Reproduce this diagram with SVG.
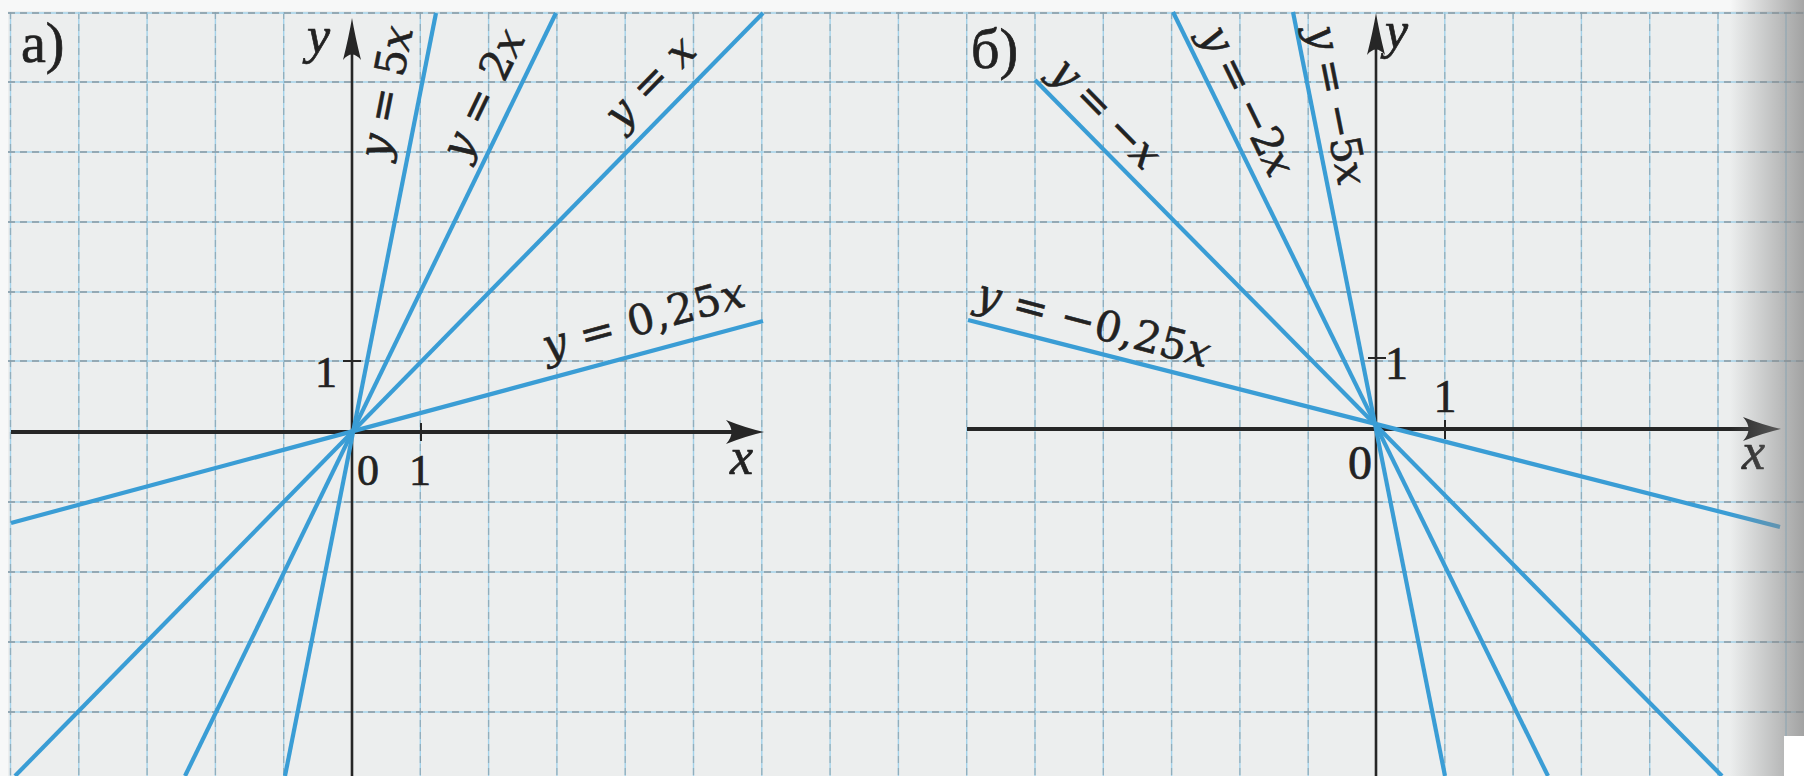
<svg xmlns="http://www.w3.org/2000/svg" width="1804" height="776" viewBox="0 0 1804 776">
<defs>
<style>
.bg{fill:#eceeee}
.gb{stroke:#a3d2ea;stroke-width:1.4;fill:none}
.gd{stroke:#7e8a90;stroke-width:1.3;stroke-dasharray:7 5;fill:none;opacity:.5}
.ax{stroke:#262626;fill:none}
.ah{fill:#262626}
.ln{stroke:#3a9dd5;stroke-width:4.2;fill:none;stroke-linecap:butt}
.eq{font-family:"DejaVu Serif","Liberation Serif",serif;font-size:42px;fill:#222;stroke:#222;stroke-width:0.6}
.i{font-style:italic}
.lb{font-family:"Liberation Serif","DejaVu Serif",serif;fill:#222;stroke:#222;stroke-width:0.7}
</style>
<path id="ahx" d="M0,0 Q-18,-4 -38,-12 Q-27,0 -38,12 Q-18,4 0,0 Z"/>
<path id="ahy" d="M0,0 Q-3,18 -9,42 Q0,31 9,42 Q3,18 0,0 Z"/>
<linearGradient id="edge" x1="1730" y1="0" x2="1804" y2="0" gradientUnits="userSpaceOnUse">
<stop offset="0" stop-color="#8a8a8a" stop-opacity="0"/>
<stop offset="1" stop-color="#8a8a8a" stop-opacity="0.75"/>
</linearGradient>
</defs>
<rect x="0" y="0" width="1804" height="776" fill="#f7f8f8"/>
<rect class="bg" x="8" y="11" width="1796" height="765"/>
<g id="grid">
<path class="gb" d="M10.5,12V776M78.8,12V776M147.1,12V776M215.4,12V776M283.7,12V776M420.3,12V776M488.6,12V776M556.9,12V776M625.2,12V776M693.5,12V776M761.8,12V776M830.1,12V776M898.4,12V776M966.7,12V776M1035,12V776M1103.3,12V776M1171.6,12V776M1239.9,12V776M1308.2,12V776M1444.8,12V776M1513.1,12V776M1581.4,12V776M1649.7,12V776M1718,12V776M1786,12V776"/>
<path class="gd" d="M10.5,12V776M78.8,12V776M147.1,12V776M215.4,12V776M283.7,12V776M420.3,12V776M488.6,12V776M556.9,12V776M625.2,12V776M693.5,12V776M761.8,12V776M830.1,12V776M898.4,12V776M966.7,12V776M1035,12V776M1103.3,12V776M1171.6,12V776M1239.9,12V776M1308.2,12V776M1444.8,12V776M1513.1,12V776M1581.4,12V776M1649.7,12V776M1718,12V776"/>
<path class="gb" d="M8,13H1804M8,82H1804M8,152H1804M8,222H1804M8,292H1804M8,361H1804M8,502H1804M8,572H1804M8,642H1804M8,712H1804"/>
<path class="gd" style="opacity:.8" d="M8,13H1804M8,82H1804M8,152H1804M8,222H1804M8,292H1804M8,361H1804M8,502H1804M8,572H1804M8,642H1804M8,712H1804"/>
</g>
<g id="graph-a">
<g id="axes-a">
<path class="ax" stroke-width="3.8" d="M11,432H740"/>
<use href="#ahx" class="ah" x="764" y="432"/>
<path class="ax" stroke-width="2.6" d="M352,776V45"/>
<use href="#ahy" class="ah" x="352" y="18"/>
<path class="ax" stroke-width="2" d="M343,361H361M421,423V441"/>
<text class="lb" x="21" y="62" font-size="56">а)</text>
<text class="lb i" x="307" y="53" font-size="52">y</text>
<text class="lb i" x="730" y="474" font-size="52">x</text>
<text class="lb" x="337" y="387" font-size="44" text-anchor="end">1</text>
<text class="lb" x="357" y="485" font-size="44">0</text>
<text class="lb" x="420" y="485" font-size="44" text-anchor="middle">1</text>
</g>
<g id="lines-a">
<path class="ln" d="M436,13L285,776"/>
<path class="ln" d="M556,13L185,776"/>
<path class="ln" d="M763,13L15,776"/>
<path class="ln" d="M763,321L11,523"/>
</g>
<g id="labels-a">
<text class="eq" transform="translate(400,95) rotate(-78.8)" text-anchor="middle" textLength="134" lengthAdjust="spacing"><tspan class="i">y</tspan> = 5<tspan class="i">x</tspan></text>
<text class="eq" transform="translate(496,100) rotate(-64.3)" text-anchor="middle" textLength="138" lengthAdjust="spacing"><tspan class="i">y</tspan> = 2<tspan class="i">x</tspan></text>
<text class="eq" transform="translate(660,92) rotate(-45.6)" text-anchor="middle" textLength="110" lengthAdjust="spacing"><tspan class="i">y</tspan> = <tspan class="i">x</tspan></text>
<text class="eq" transform="translate(647,333) rotate(-15.2)" text-anchor="middle" textLength="208" lengthAdjust="spacing"><tspan class="i">y</tspan> = 0,25<tspan class="i">x</tspan></text>
</g>
</g>
<g id="graph-b">
<g id="axes-b">
<path class="ax" stroke-width="3.8" d="M967,429H1757"/>
<use href="#ahx" class="ah" x="1781" y="429"/>
<path class="ax" stroke-width="2.6" d="M1376,776V40"/>
<use href="#ahy" class="ah" x="1376" y="13"/>
<path class="ax" stroke-width="2" d="M1368,358H1386M1445,420V439"/>
<text class="lb" x="971" y="68" font-size="56">б)</text>
<text class="lb i" x="1385" y="48" font-size="52">y</text>
<text class="lb i" x="1742" y="469" font-size="52">x</text>
<text class="lb" x="1385" y="379" font-size="46">1</text>
<text class="lb" x="1445" y="412" font-size="46" text-anchor="middle">1</text>
<text class="lb" x="1372" y="479" font-size="48" text-anchor="end">0</text>
</g>
<g id="lines-b">
<path class="ln" d="M968,320L1780,527"/>
<path class="ln" d="M1035,80L1722,776"/>
<path class="ln" d="M1173,12L1548,776"/>
<path class="ln" d="M1293,12L1445,776"/>
</g>
<g id="labels-b">
<text class="eq" transform="translate(1096,123) rotate(45.6)" text-anchor="middle" textLength="137" lengthAdjust="spacing"><tspan class="i">y</tspan> = −<tspan class="i">x</tspan></text>
<text class="eq" transform="translate(1235,107) rotate(64)" text-anchor="middle" textLength="162" lengthAdjust="spacing"><tspan class="i">y</tspan> = −2<tspan class="i">x</tspan></text>
<text class="eq" transform="translate(1323,108) rotate(78.7)" text-anchor="middle" textLength="162" lengthAdjust="spacing"><tspan class="i">y</tspan> = −5<tspan class="i">x</tspan></text>
<text class="eq" transform="translate(1090,337) rotate(14.8)" text-anchor="middle" textLength="240" lengthAdjust="spacing"><tspan class="i">y</tspan> = −0,25<tspan class="i">x</tspan></text>
</g>
</g>
<rect x="1730" y="0" width="74" height="776" fill="url(#edge)"/>
<rect x="1784" y="736" width="20" height="40" fill="#ffffff"/>
</svg>
